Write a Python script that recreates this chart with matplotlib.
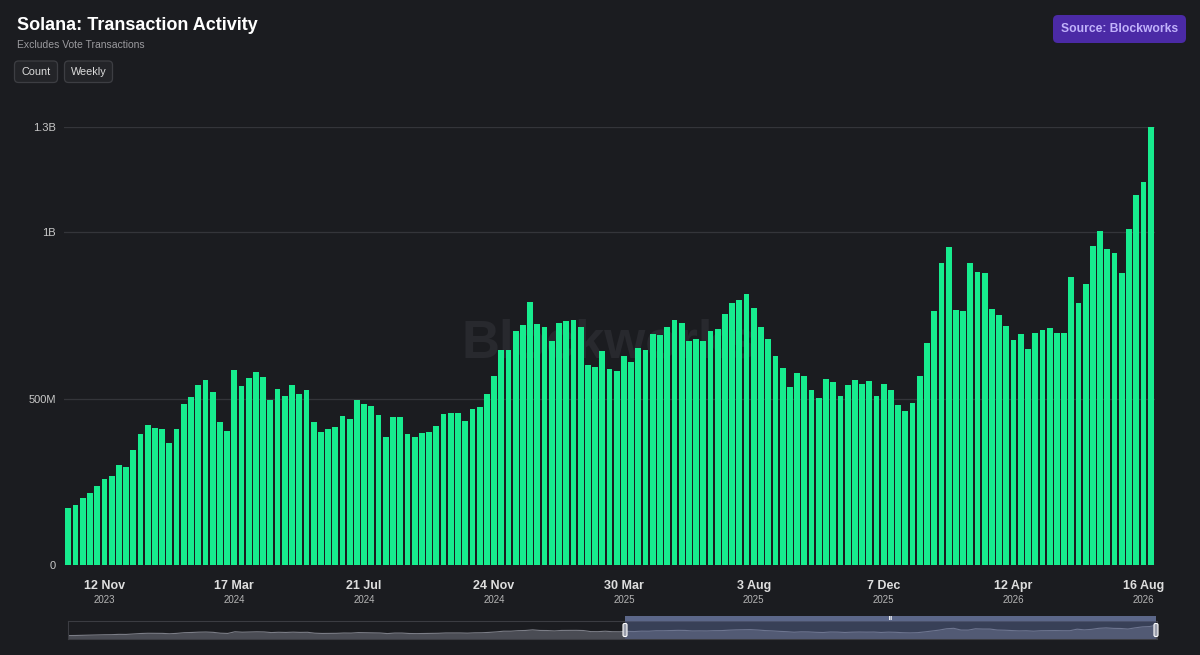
import matplotlib
matplotlib.use('Agg')
import matplotlib.pyplot as plt
from matplotlib.patches import FancyBboxPatch, Rectangle
import numpy as np
import pandas as pd

plt.rcParams['font.family'] = ['Liberation Sans', 'DejaVu Sans']

# weekly transaction count, millions (excludes vote txs)
tx_m = [172, 180, 202, 215, 238, 260, 268, 302, 295, 345,
        394, 420, 413, 408, 367, 410, 484, 505, 541, 557,
        521, 429, 402, 585, 538, 562, 580, 566, 495, 529,
        509, 540, 515, 526, 429, 400, 409, 414,
        448, 440, 495, 484, 479, 451, 386, 444, 444, 395,
        384, 398, 400, 419, 454, 458, 456, 434, 469, 476,
        515, 569, 646, 646, 703, 722, 790, 725, 717, 673,
        728, 734, 737, 717, 601, 595, 644, 589,
        584, 627, 609, 651, 645, 695, 692, 716, 737, 727,
        673, 681, 674, 703, 709, 756, 787, 798, 815, 772,
        715, 679, 629, 593, 536, 577, 569, 526, 503, 559,
        550, 507, 541, 557, 544, 554, 508, 545,
        525, 482, 464, 486, 569, 667, 763, 908, 957, 768,
        763, 907, 880, 878, 771, 752, 718, 678, 694, 648,
        697, 708, 714, 698, 697, 865, 787, 846, 960, 1004,
        951, 939, 879, 1010, 1114, 1151, 1317]
weeks = pd.date_range('2023-10-08', periods=len(tx_m), freq='7D')
label_idx = list(range(5, len(tx_m), 18))

vals = np.array(tx_m) * 1e6
x = np.arange(len(vals))

BG = '#1b1c20'
GREEN = '#17ec8e'
GRID = '#34353a'
W, H = 1200, 655

fig = plt.figure(figsize=(12, 6.55), dpi=100)
fig.patch.set_facecolor(BG)

def px_axes(x0, y0, x1, y1):
    # pixel box (top-left origin) -> figure axes
    return fig.add_axes([x0 / W, 1 - y1 / H, (x1 - x0) / W, (y1 - y0) / H])

# ---- main chart ----
ax = px_axes(64, 127, 1155, 565)
ax.set_facecolor(BG)
ax.bar(x, vals, width=0.8, color=GREEN, zorder=2)
ax.set_xlim(-0.6, len(vals) - 0.4)
ax.set_ylim(0, vals.max())
yt = [0, 5e8, 1e9, vals.max()]
ax.set_yticks(yt)

def fmt(v):
    if v == 0:
        return '0'
    if v >= 1e9:
        return ('%.1f' % (v / 1e9)).rstrip('0').rstrip('.') + 'B'
    return '%dM' % round(v / 1e6)

ax.set_yticklabels([fmt(v) for v in yt])
ax.tick_params(axis='y', length=0, pad=6, labelsize=8, labelcolor='#c9c9c9')
ax.set_xticks([])
ax.grid(axis='y', color=GRID, lw=0.9, zorder=0)
for s in ax.spines.values():
    s.set_visible(False)

ax.text(0.5, 0.505, 'Blockworks', transform=ax.transAxes, ha='center', va='center',
        fontsize=38, fontweight='bold', color='#28292e', zorder=1)

xt = ax.get_xaxis_transform()
for i in label_idx:
    d = weeks[i]
    ax.text(i, -0.048, f'{d.day} {d.strftime("%b")}', transform=xt, ha='center',
            va='center', fontsize=9, fontweight='bold', color='#dedede')
    ax.text(i, -0.081, str(d.year), transform=xt, ha='center', va='center',
            fontsize=7, color='#b5b5b5')

# ---- navigator ----
nav = px_axes(68, 621, 1157, 639)
nav.set_facecolor(BG)
nav.fill_between(x, vals, -0.2e9, color='#4a4c54', lw=0)
nav.plot(x, vals, color='#7b7d86', lw=0.8)
nav.set_xlim(0, len(vals) - 1)
nav.set_ylim(-0.2e9, 1.75e9)
nav.set_xticks([])
nav.set_yticks([])
for s in nav.spines.values():
    s.set_color('#3b3c42')
    s.set_linewidth(0.8)

# ---- overlay in pixel coords ----
ov = fig.add_axes([0, 0, 1, 1])
ov.set_xlim(0, W)
ov.set_ylim(H, 0)
ov.axis('off')
ov.patch.set_alpha(0)

# navigator selection
ov.add_patch(Rectangle((625, 621), 531, 18, facecolor='#5d6c9c', alpha=0.45, lw=0))
ov.add_patch(Rectangle((625, 615.5), 531, 5.5, facecolor='#5c6789', lw=0))
ov.text(890.5, 618.5, 'III', ha='center', va='center', fontsize=3.5, color='white',
        fontweight='bold')
for hx in (625, 1156):
    ov.add_patch(FancyBboxPatch((hx - 2, 623.5), 4, 13, boxstyle='round,pad=0,rounding_size=1.5',
                                facecolor='#9a9eab', edgecolor='white', lw=0.8))

ov.text(17, 30, 'Solana: Transaction Activity', ha='left', va='baseline',
        fontsize=13, fontweight='bold', color='white')
ov.text(17, 47.5, 'Excludes Vote Transactions', ha='left', va='baseline',
        fontsize=7.5, color='#9b9b9f')

for (bx0, bx1, lab) in [(14.5, 57.5, 'Count'), (64.5, 112.5, 'Weekly')]:
    ov.add_patch(FancyBboxPatch((bx0, 61), bx1 - bx0, 21.5,
                                boxstyle='round,pad=0,rounding_size=4',
                                facecolor='#232428', edgecolor='#3d3e43', lw=0.9))
    ov.text((bx0 + bx1) / 2, 72, lab, ha='center', va='center', fontsize=7.8,
            color='#dcdcdc')

ov.add_patch(FancyBboxPatch((1053, 15), 133, 28, boxstyle='round,pad=0,rounding_size=5',
                            facecolor='#4b2aa6', edgecolor='none'))
ov.text(1119.5, 29.5, 'Source: Blockworks', ha='center', va='center', fontsize=8.7,
        fontweight='bold', color='#c1b2fb')

fig.savefig('out.png', dpi=100, facecolor=BG)
